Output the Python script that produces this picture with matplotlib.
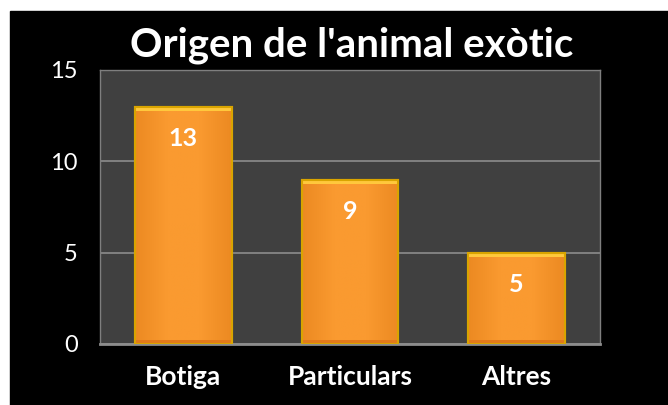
import numpy as np
import matplotlib.pyplot as plt
from matplotlib.patches import Rectangle
from matplotlib.colors import LinearSegmentedColormap

categories = ["Botiga", "Particulars", "Altres"]
values = [13, 9, 5]
yticks = [0, 5, 10, 15]

W, H = 668, 405
fig = plt.figure(figsize=(W / 100, H / 100), dpi=100, facecolor="white")
# black chart area with thin white margin top/left
fig.patches.append(Rectangle((10 / W, 0), 1 - 10 / W, 1 - 11 / H,
                             transform=fig.transFigure, color="black", zorder=-10))

ax = fig.add_axes([100 / W, 1 - 344 / H, 500 / W, 274 / H])
ax.set_facecolor("#404040")
x = np.arange(len(categories))
bars = ax.bar(x, values, width=0.58, color="#F7962A", edgecolor="#D9A400",
              linewidth=1.5, zorder=3)

# bevel-like shading: horizontal gradient inside each bar + light top strip
cmap = LinearSegmentedColormap.from_list("o", ["#EC8A22", "#FA9A30", "#FA9A30", "#EC8A22"])
grad = np.linspace(0, 1, 64).reshape(1, -1)
for b in bars:
    bx, bw, bh = b.get_x(), b.get_width(), b.get_height()
    im = ax.imshow(grad, cmap=cmap, aspect="auto", extent=(bx, bx + bw, 0, bh), zorder=3.5)
    im.set_clip_path(b)
    ax.add_patch(Rectangle((bx, bh - 0.22), bw, 0.22, color="#FFC83C", zorder=4, lw=0))
    ax.add_patch(Rectangle((bx, 0), bw, 0.2, color="#E27A1C", zorder=4, lw=0))
    ax.add_patch(Rectangle((bx, 0), bw, bh, fill=False, edgecolor="#D9A400", lw=1.5, zorder=4.5))

for xi, v in zip(x, values):
    ax.text(xi, v - 1.75, str(v), ha="center", va="center", color="white",
            fontsize=18, fontweight="bold", family="Lato", zorder=5)

ax.set_xlim(-0.5, len(categories) - 0.5)
ax.set_ylim(0, 15)
ax.set_yticks(yticks)
ax.yaxis.grid(True, color="#8C8C8C", lw=1.2, zorder=1)
ax.set_axisbelow(True)
for s in ["top", "right", "left"]:
    ax.spines[s].set_color("#7F7F7F")
    ax.spines[s].set_linewidth(1.0)
ax.spines["bottom"].set_color("#8C8C8C")
ax.spines["bottom"].set_linewidth(2)
ax.tick_params(axis="both", length=0, colors="white")
ax.tick_params(axis="y", labelsize=17, pad=16)
ax.tick_params(axis="x", labelsize=19, pad=15)
ax.set_xticks(x)
ax.set_xticklabels(categories, fontweight="bold", family="Lato")
for lab in ax.get_yticklabels():
    lab.set_family("Lato")

fig.text(352 / W, 1 - 45 / H, "Origen de l'animal exòtic", ha="center", va="center",
         color="white", fontsize=29, fontweight="bold", family="Lato")

fig.savefig("out.png", dpi=100, facecolor="white")
